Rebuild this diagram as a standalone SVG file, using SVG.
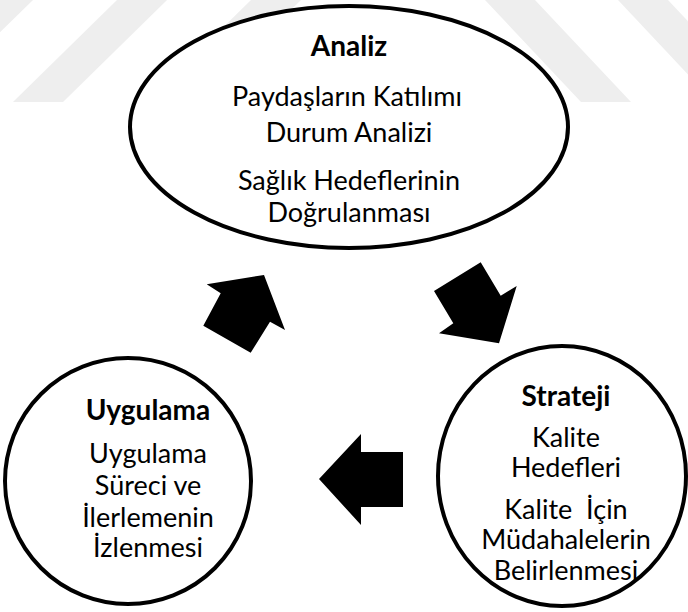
<svg xmlns="http://www.w3.org/2000/svg" width="688" height="612" viewBox="0 0 688 612">
  <style>
    .wm { fill: #eeeeee; }
    .node { fill: #ffffff; stroke: #000000; stroke-width: 4; }
    .arrow { fill: #000000; }
    text { font-family: Lato, "Open Sans", "Liberation Sans", sans-serif; fill: #000000; text-anchor: middle; }
    .title { font-size: 28px; font-weight: bold; }
    .body { font-size: 27px; }
  </style>
  <rect width="688" height="612" fill="#ffffff"/>
  <g id="watermark">
    <polygon class="wm" points="-17,0 33,0 -71,102 -121,102"/>
    <polygon class="wm" points="117,0 167,0 63,102 13,102"/>
    <polygon class="wm" points="251,0 301,0 197,102 147,102"/>
    <polygon class="wm" points="485,0 535,0 631,102 581,102"/>
    <polygon class="wm" points="618,0 668,0 764,102 714,102"/>
  </g>
  <g id="connectors">
    <polygon id="arrow-analiz-strateji" class="arrow" points="480.7,262.3 434,291 453.3,323.3 439,333.3 499,343.3 516.7,286 500.7,295.7"/>
    <polygon id="arrow-strateji-uygulama" class="arrow" points="319,479 361,434 361,452 403,452 403,507 361,507 361,525"/>
    <polygon id="arrow-uygulama-analiz" class="arrow" points="264,275 206.7,284.3 220.7,293.3 203.3,325.7 250.7,352.7 270,321.7 285,330"/>
  </g>
  <g id="analiz">
    <ellipse class="node" cx="349" cy="127" rx="219" ry="121"/>
    <text class="title" x="349" y="56">Analiz</text>
    <text class="body" x="347" y="106">Paydaşların Katılımı</text>
    <text class="body" x="349" y="142">Durum Analizi</text>
    <text class="body" x="349" y="190">Sağlık Hedeflerinin</text>
    <text class="body" x="349" y="222">Doğrulanması</text>
  </g>
  <g id="uygulama">
    <ellipse class="node" cx="128" cy="481" rx="123" ry="123"/>
    <text class="title" x="148" y="420">Uygulama</text>
    <text class="body" x="148" y="463">Uygulama</text>
    <text class="body" x="148" y="495">Süreci ve</text>
    <text class="body" x="148" y="527">İlerlemenin</text>
    <text class="body" x="148" y="557">İzlenmesi</text>
  </g>
  <g id="strateji">
    <ellipse class="node" cx="562" cy="476" rx="124" ry="130"/>
    <text class="title" x="566" y="406">Strateji</text>
    <text class="body" x="566" y="447">Kalite</text>
    <text class="body" x="566" y="477">Hedefleri</text>
    <text class="body" x="566" y="519" xml:space="preserve">Kalite  İçin</text>
    <text class="body" x="566" y="549">Müdahalelerin</text>
    <text class="body" x="566" y="580">Belirlenmesi</text>
  </g>
</svg>
